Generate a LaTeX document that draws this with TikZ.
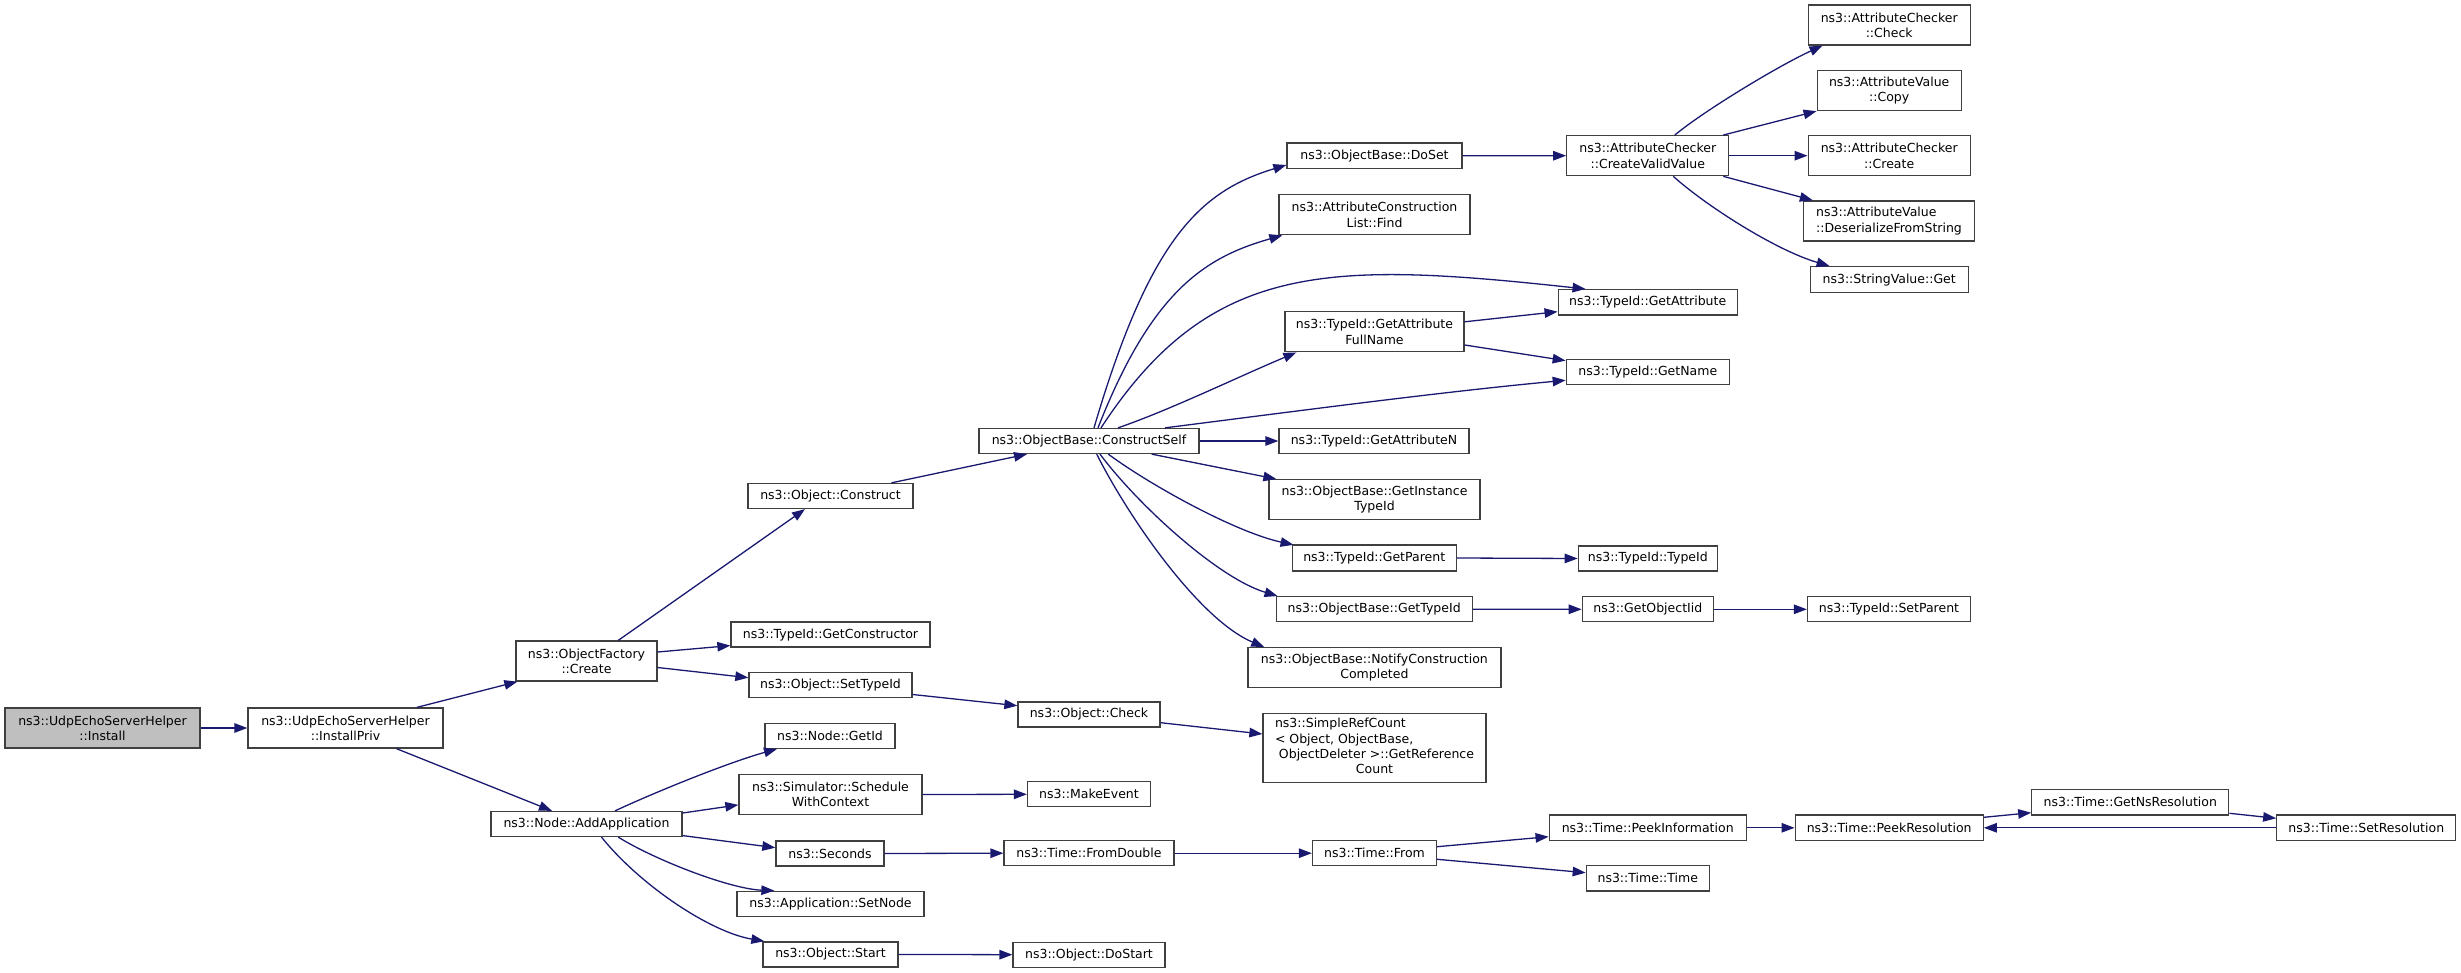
\documentclass[tikz,border=0pt]{standalone}
\usepackage{fontspec}
\setmainfont{DejaVu Sans}
\usetikzlibrary{arrows.meta,calc}
\definecolor{edgeblue}{HTML}{191970}
\definecolor{boxgray}{HTML}{404040}
\definecolor{hlfill}{HTML}{BFBFBF}
\newcommand{\fnfont}{\fontsize{12.5}{15.3}\selectfont}
\begin{document}
\begin{tikzpicture}[x=1pt,y=-1pt,
 fn/.style={draw=boxgray, line width=1.3pt, fill=white, inner sep=0pt, font=\fnfont, align=center},
 sz/.style 2 args={minimum width=#1pt, minimum height=#2pt},
 hl/.style={fill=hlfill},
 call/.style={draw=edgeblue, line width=1.3pt, -{Triangle[length=13pt,width=9.5pt]}},
]
\useasboundingbox (0,0) rectangle (2461,973);
% column 1-2
\node[fn,hl,sz={195}{40}] (install) at (102.5,728) {ns3::UdpEchoServerHelper\\::Install};
\node[fn,sz={195}{40}] (installpriv) at (345.5,728) {ns3::UdpEchoServerHelper\\::InstallPriv};
\node[fn,sz={141}{40}] (create) at (586.5,661) {ns3::ObjectFactory\\::Create};
\node[fn,sz={191}{25}] (addapp) at (586.5,824) {ns3::Node::AddApplication};
% column 3
\node[fn,sz={165}{25}] (construct) at (830.5,496) {ns3::Object::Construct};
\node[fn,sz={199}{25}] (getctor) at (830.5,634.6) {ns3::TypeId::GetConstructor};
\node[fn,sz={163}{25}] (settypeid) at (830.5,685) {ns3::Object::SetTypeId};
\node[fn,sz={130}{25}] (getid) at (830,735.8) {ns3::Node::GetId};
\node[fn,sz={183}{40}] (schedule) at (830.5,794.5) {ns3::Simulator::Schedule\\WithContext};
\node[fn,sz={108}{25}] (seconds) at (830,853.5) {ns3::Seconds};
\node[fn,sz={187}{25}] (setnode) at (830.5,903.8) {ns3::Application::SetNode};
\node[fn,sz={135}{25}] (ostart) at (830.5,954.4) {ns3::Object::Start};
% column 4
\node[fn,sz={220}{25}] (cself) at (1089,441) {ns3::ObjectBase::ConstructSelf};
\node[fn,sz={142}{25}] (ocheck) at (1089,714.5) {ns3::Object::Check};
\node[fn,sz={123}{25}] (makeevent) at (1089,794.3) {ns3::MakeEvent};
\node[fn,sz={170}{25}] (fromdouble) at (1089,853.2) {ns3::Time::FromDouble};
\node[fn,sz={152}{25}] (dostart) at (1089,954.7) {ns3::Object::DoStart};
% column 5
\node[fn,sz={175}{25.7}] (doset) at (1374.5,155.8) {ns3::ObjectBase::DoSet};
\node[fn,sz={191}{40}] (find) at (1374.5,214.7) {ns3::AttributeConstruction\\List::Find};
\node[fn,sz={179}{40}] (gafn) at (1374.5,331.8) {ns3::TypeId::GetAttribute\\FullName};
\node[fn,sz={190}{25}] (getattrn) at (1374,441) {ns3::TypeId::GetAttributeN};
\node[fn,sz={211}{40}] (ginst) at (1374.5,499.7) {ns3::ObjectBase::GetInstance\\TypeId};
\node[fn,sz={164}{26}] (getparent) at (1374.2,558) {ns3::TypeId::GetParent};
\node[fn,sz={196}{25}] (gettypeid) at (1374.2,609.2) {ns3::ObjectBase::GetTypeId};
\node[fn,sz={253}{40}] (notify) at (1374.4,667.7) {ns3::ObjectBase::NotifyConstruction\\Completed};
\node[fn,sz={223}{69}] (simpleref) at (1374.5,747.7) {\begin{tabular}{@{}l@{}}ns3::SimpleRefCount\\< Object, ObjectBase,\\\ ObjectDeleter >::GetReference\\\multicolumn{1}{@{}c@{}}{Count}\end{tabular}};
\node[fn,sz={124}{25}] (tfrom) at (1374.5,853.2) {ns3::Time::From};
% column 6
\node[fn,sz={162}{40}] (cvv) at (1647.8,155.7) {ns3::AttributeChecker\\::CreateValidValue};
\node[fn,sz={179}{25.3}] (getattr) at (1647.7,302.3) {ns3::TypeId::GetAttribute};
\node[fn,sz={163}{25}] (getname) at (1647.8,371.8) {ns3::TypeId::GetName};
\node[fn,sz={139}{25}] (tidtid) at (1647.8,558.5) {ns3::TypeId::TypeId};
\node[fn,sz={131}{25}] (getoiid) at (1647.8,609.3) {ns3::GetObjectIid};
\node[fn,sz={197}{25.7}] (peekinfo) at (1647.7,827.8) {ns3::Time::PeekInformation};
\node[fn,sz={123}{25.3}] (ttime) at (1647.8,878.3) {ns3::Time::Time};
% column 7
\node[fn,sz={162}{40}] (accheck) at (1889.2,25) {ns3::AttributeChecker\\::Check};
\node[fn,sz={144}{40}] (avcopy) at (1889.2,90.5) {ns3::AttributeValue\\::Copy};
\node[fn,sz={162}{40}] (accreate) at (1889.2,155.7) {ns3::AttributeChecker\\::Create};
\node[fn,sz={171}{40},align=left] (deser) at (1889,221) {ns3::AttributeValue\\::DeserializeFromString};
\node[fn,sz={158}{26}] (strget) at (1889.2,279.7) {ns3::StringValue::Get};
\node[fn,sz={163}{25}] (setparent) at (1889,609.3) {ns3::TypeId::SetParent};
\node[fn,sz={188}{25.7}] (peekres) at (1889.2,827.8) {ns3::Time::PeekResolution};
% columns 8-9
\node[fn,sz={197}{25.7}] (getns) at (2130.3,802.2) {ns3::Time::GetNsResolution};
\node[fn,sz={179}{25.7}] (setres) at (2366.3,827.8) {ns3::Time::SetResolution};

% edges
\draw[call] (install) -- (installpriv);
\draw[call] ($(installpriv.north)+(71.5,0)$) -- ($(create.south west)+(2,0)$);
\draw[call] ($(installpriv.south)+(51,0)$) -- ($(addapp.north)+(-34.5,0)$);
\draw[call] ($(create.north)+(31.8,0)$) -- ($(construct.south)+(-25.5,0)$);
\draw[call] ($(create.east)+(0,-9)$) -- ($(getctor.west)+(0,11)$);
\draw[call] ($(create.east)+(0,6.5)$) -- ($(settypeid.west)+(0,-7.3)$);
\draw[call] ($(construct.north)+(61,0)$) -- ($(cself.south)+(-62,0)$);
\draw[call] ($(settypeid.east)+(0,9.5)$) -- ($(ocheck.west)+(0,-8.8)$);
\draw[call] ($(ocheck.east)+(0,8.2)$) -- ($(simpleref.west)+(0,-13.7)$);
\draw[call] ($(addapp.north)+(28.5,0)$) .. controls (660,790) and (730,762) .. ($(getid.south)+(-53,0)$);
\draw[call] ($(addapp.east)+(0,-11)$) -- ($(schedule.west)+(0,10.4)$);
\draw[call] ($(addapp.east)+(0,11.6)$) -- ($(seconds.west)+(0,-5.8)$);
\draw[call] ($(addapp.south)+(31.8,0)$) .. controls (655,860) and (730,889) .. ($(setnode.north west)+(38,0)$);
\draw[call] ($(addapp.south)+(15,0)$) .. controls (640,885) and (710,932) .. ($(ostart.north west)+(2,0)$);
\draw[call] (schedule.east) -- (makeevent.west);
\draw[call] (seconds.east) -- (fromdouble.west);
\draw[call] (ostart.east) -- (dostart.west);
\draw[call] (fromdouble.east) -- (tfrom.west);
\draw[call] ($(tfrom.east)+(0,-6.5)$) -- ($(peekinfo.west)+(0,8.9)$);
\draw[call] ($(tfrom.east)+(0,6.1)$) -- ($(ttime.west)+(0,-5.6)$);
\draw[call] (peekinfo.east) -- (peekres.west);
\draw[call] ($(peekres.east)+(0,-10.5)$) -- ($(getns.west)+(0,10.5)$);
\draw[call] ($(getns.east)+(0,11.1)$) -- ($(setres.west)+(0,-9.5)$);
\draw[call] (setres.west) -- (peekres.east);
% ConstructSelf fan
\draw[call] ($(cself.north)+(5,0)$) .. controls (1150,237) and (1201,191) .. ($(doset.west)+(0,9.2)$);
\draw[call] ($(cself.north)+(9,0)$) .. controls (1152,290) and (1206,257) .. ($(find.south west)+(4,0)$);
\draw[call] ($(cself.north)+(12,0)$) .. controls (1210,261) and (1328,261) .. ($(getattr.north west)+(28,0)$);
\draw[call] ($(cself.north)+(29,0)$) .. controls (1170,410) and (1240,376) .. ($(gafn.south west)+(12,0)$);
\draw[call] ($(cself.north)+(76,0)$) .. controls (1290,412) and (1440,392) .. ($(getname.west)+(0,8.5)$);
\draw[call] (cself.east) -- (getattrn.west);
\draw[call] ($(cself.south)+(62.7,0)$) -- ($(ginst.north west)+(8,0)$);
\draw[call] ($(cself.south)+(19.3,0)$) .. controls (1150,485) and (1235,532) .. ($(getparent.north west)+(2,0.5)$);
\draw[call] ($(cself.south)+(11,0)$) .. controls (1138,505) and (1218,578) .. ($(gettypeid.north west)+(2,0)$);
\draw[call] ($(cself.south)+(7.7,0)$) .. controls (1130,520) and (1200,620) .. ($(notify.north west)+(17,0)$);
\draw[call] ($(gafn.east)+(0,-10)$) -- ($(getattr.west)+(0,9.4)$);
\draw[call] ($(gafn.east)+(0,13.2)$) -- ($(getname.north west)+(0,2)$);
\draw[call] (doset.east) -- (cvv.west);
\draw[call] ($(cvv.north)+(27,0)$) .. controls (1705,110) and (1780,65) .. ($(accheck.south west)+(15,0)$);
\draw[call] ($(cvv.north)+(75.5,0)$) -- (avcopy.south west);
\draw[call] (cvv.east) -- (accreate.west);
\draw[call] ($(cvv.south)+(75.5,0)$) -- ($(deser.north west)+(10,0)$);
\draw[call] ($(cvv.south)+(25.5,0)$) .. controls (1705,205) and (1775,250) .. ($(strget.north west)+(20,0)$);
\draw[call] (getparent.east) -- (tidtid.west);
\draw[call] (gettypeid.east) -- (getoiid.west);
\draw[call] (getoiid.east) -- (setparent.west);
\end{tikzpicture}
\end{document}
